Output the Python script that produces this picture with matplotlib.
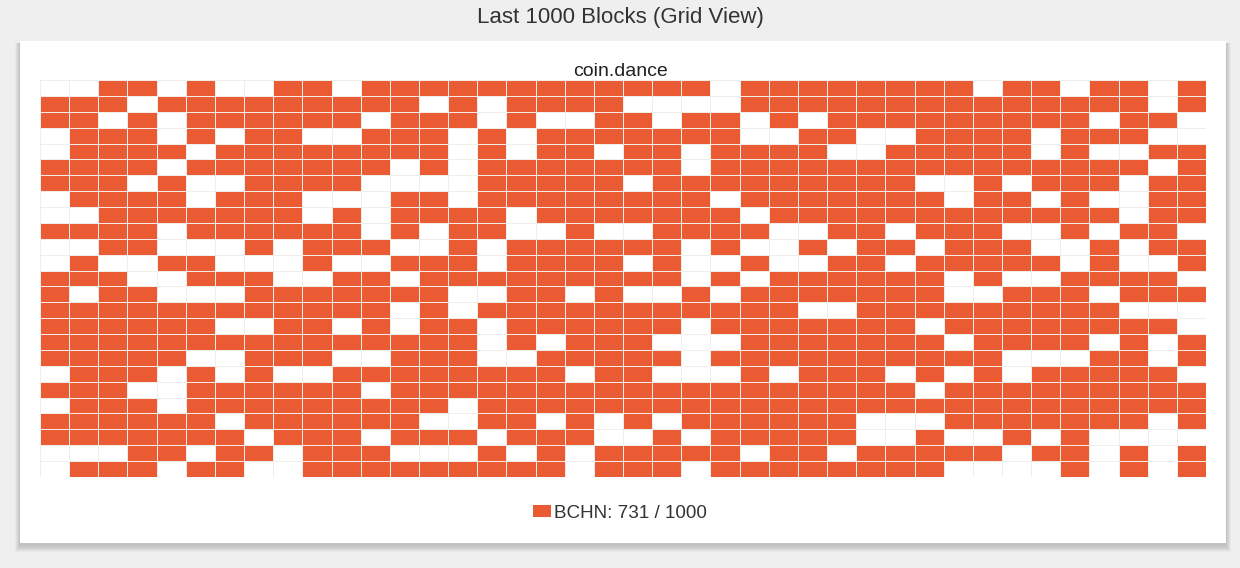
import numpy as np
import matplotlib
matplotlib.use("Agg")
import matplotlib.pyplot as plt
from matplotlib.colors import ListedColormap
from matplotlib.patches import Rectangle, Patch

plt.rcParams['font.family'] = ['Liberation Sans', 'DejaVu Sans']

# 1 = block mined by BCHN, 0 = other (40 columns x 25 rows, read row by row)
grid_rows = [
    "0011010011" "0111111111" "1110111111" "1101101101",
    "1110111111" "1110101111" "0000111111" "1111111101",
    "1101011111" "1011101001" "1011010111" "1111110110",
    "0111010110" "0111010111" "1111001100" "1111011100",
    "0111101111" "1111010110" "1101111001" "1111010011",
    "1111011111" "1101011111" "1101111111" "1111111101",
    "1110100111" "1000011111" "0111111111" "0010111011",
    "0111101110" "0011011111" "1110111111" "1011010011",
    "0011111110" "1011110111" "1111011111" "1111111011",
    "1111011111" "1010110010" "0111100110" "1110010110",
    "0011000101" "1100101111" "1101001011" "0111001011",
    "0100110001" "0011101111" "0100100110" "1111101001",
    "1110011100" "1101111111" "1101011111" "1010011110",
    "1011000111" "1111001101" "0010111111" "1001110111",
    "1111111111" "1101011111" "1111110011" "1111111000",
    "1111110011" "0101101111" "1101111111" "0111111110",
    "1111111111" "1111101011" "1000111111" "1011110101",
    "1111100111" "0011100111" "1101111111" "1110001101",
    "0111010100" "1111111101" "1000101110" "1010111110",
    "1110011111" "1011111111" "1111111111" "0111111111",
    "0111011111" "1111011111" "1111111111" "1111111111",
    "1111110111" "1110011010" "1011111100" "0111111101",
    "1111111011" "1011101110" "0101111100" "1001010000",
    "0001101101" "1100010101" "1111011011" "1110110101",
    "0111011001" "1111111101" "1101111111" "1000010101",
]
pool_name = "BCHN"
total_blocks = 1000

grid = np.array([[int(c) for c in r] for r in grid_rows])
n_rows, n_cols = grid.shape
mined = int(grid.sum())

orange = '#ea5b33'
W, H = 1240, 568
fig = plt.figure(figsize=(W / 100, H / 100), dpi=100)
fig.patch.set_facecolor('#efefef')

# card with soft shadow (drawn under the axes), mostly below the card
for off in range(8, 0, -1):
    fig.patches.append(Rectangle(((20 - off * 0.6) / W, 1 - (543 + off * 0.9 + 2) / H),
                                 (1206 + 1.2 * off) / W, (502 + off * 0.9) / H,
                                 transform=fig.transFigure, facecolor='black',
                                 alpha=0.025, edgecolor='none', zorder=-2))
fig.patches.append(Rectangle((20 / W, 1 - 543 / H), 1206 / W, 502 / H,
                             transform=fig.transFigure, facecolor='white',
                             edgecolor='none', zorder=-1))

fig.text(0.5, 1 - 18 / H, "Last 1000 Blocks (Grid View)", ha='center', va='center',
         fontsize=16, color='#333333')
fig.text(0.5, 1 - 71 / H, "coin.dance", ha='center', va='center',
         fontsize=14, color='#222222')

ax = fig.add_axes([40 / W, 1 - 477 / H, 1166 / W, 397 / H], zorder=1)
ax.pcolormesh(np.arange(n_cols + 1), np.arange(n_rows + 1), grid,
              cmap=ListedColormap(['white', orange]), vmin=0, vmax=1,
              edgecolors='#f3ede9', linewidth=0.7)
ax.set_xlim(0, n_cols)
ax.set_ylim(n_rows, 0)
ax.axis('off')

fig.legend(handles=[Patch(facecolor=orange, edgecolor='none')],
           labels=[f"{pool_name}: {mined} / {total_blocks}"],
           loc='center', bbox_to_anchor=(0.5, 1 - 513 / H), frameon=False,
           fontsize=13.6, handlelength=0.95, handleheight=0.65, handletextpad=0.15,
           labelcolor='#333333')

fig.savefig("out.png", dpi=100, facecolor=fig.get_facecolor())
